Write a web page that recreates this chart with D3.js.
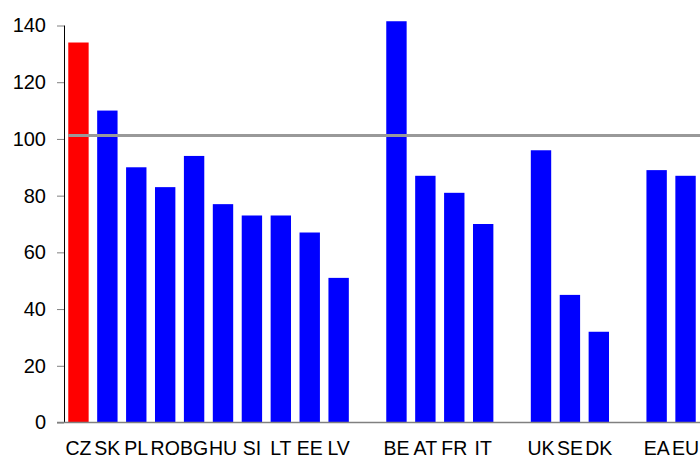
<!DOCTYPE html>
<html>
<head>
<meta charset="utf-8">
<script src="https://cdn.jsdelivr.net/npm/d3@7"></script>
<style>
  html, body { margin: 0; padding: 0; background: #fff; }
  svg { display: block; }
  text { font-family: "Liberation Sans", Arial, sans-serif; fill: #000; }
</style>
</head>
<body>
<svg id="chart" width="700" height="458"></svg>
<script>
// Data (slots with empty names are gaps between groups)
const categories = ["CZ","SK","PL","RO","BG","HU","SI","LT","EE","LV","",
                    "BE","AT","FR","IT","",
                    "UK","SE","DK","",
                    "EA","EU"];
const values = [134, 110, 90, 83, 94, 77, 73, 73, 67, 51, null,
                141.5, 87, 81, 70, null,
                96, 45, 32, null,
                89, 87];
const highlight = ["CZ"];
const referenceLevel = 101.2;
const yTicks = [0, 20, 40, 60, 80, 100, 120, 140];

const svg = d3.select("#chart");
const mLeft = 64, mRight = 700, mTop = 25.5, mBottom = 422.5;

const x = d3.scaleBand()
  .domain(d3.range(categories.length))
  .range([mLeft, mRight])
  .paddingInner(0.295)
  .paddingOuter(0.1475);

const y = d3.scaleLinear().domain([0, 140]).range([mBottom, mTop]);

// Bars
svg.append("g").selectAll("rect")
  .data(categories.map((c, i) => ({c, v: values[i], i})).filter(d => d.v != null))
  .join("rect")
  .attr("x", d => x(d.i))
  .attr("width", x.bandwidth())
  .attr("y", d => y(d.v))
  .attr("height", d => y(0) - y(d.v))
  .attr("fill", d => highlight.includes(d.c) ? "#ff0000" : "#0000ff");

// Reference line
svg.append("line")
  .attr("x1", x(0)).attr("x2", mRight)
  .attr("y1", y(referenceLevel)).attr("y2", y(referenceLevel))
  .attr("stroke", "#999999").attr("stroke-width", 3);

// Y axis
const yAxis = d3.axisLeft(y).tickValues(yTicks).tickSize(7).tickPadding(11);
const gy = svg.append("g").attr("transform", `translate(${mLeft},0)`).call(yAxis);
gy.select(".domain").remove();
gy.selectAll(".tick line").attr("stroke", "#808080");
gy.selectAll(".tick text")
  .style("font-family", "'Liberation Sans', Arial, sans-serif")
  .style("font-size", "20px").attr("fill", "#000");
svg.append("line")
  .attr("x1", mLeft + 0.5).attr("x2", mLeft + 0.5)
  .attr("y1", mTop).attr("y2", mBottom)
  .attr("stroke", "#000").attr("stroke-width", 1);

// Baseline
svg.append("line")
  .attr("x1", mLeft - 7).attr("x2", mRight)
  .attr("y1", y(0)).attr("y2", y(0))
  .attr("stroke", "#808080").attr("stroke-width", 1.5);

// Category labels
svg.append("g").selectAll("text")
  .data(categories.map((c, i) => ({c, i})).filter(d => d.c !== ""))
  .join("text")
  .attr("x", d => x(d.i) + x.bandwidth() / 2)
  .attr("y", 455)
  .attr("text-anchor", "middle")
  .style("font-size", "19.5px")
  .text(d => d.c);
</script>
</body>
</html>
